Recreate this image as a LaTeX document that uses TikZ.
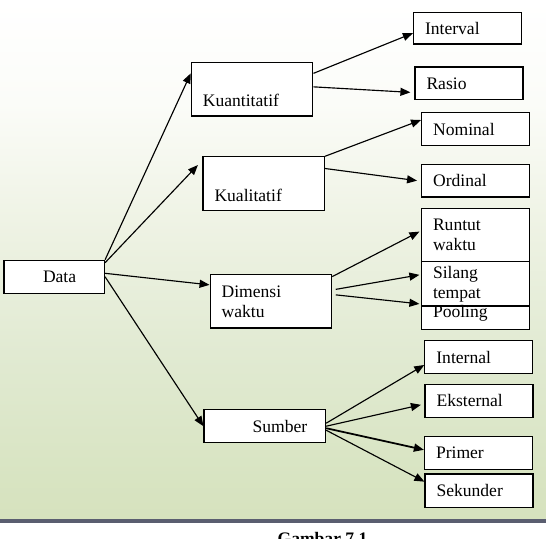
\documentclass[tikz,border=0pt]{standalone}
\usepackage{fontspec}
\setmainfont{Liberation Serif}
\usetikzlibrary{arrows.meta, positioning, calc}
\definecolor{bggreen}{HTML}{D6E2BE}
\definecolor{bglow}{HTML}{D8E4C2}
\definecolor{bgmid}{HTML}{E1EAD2}
\definecolor{bgpale}{HTML}{EFF3E5}
\definecolor{bgwhite}{HTML}{FBFCF8}
\definecolor{cband}{HTML}{5A5E70}
\pgfdeclareverticalshading{pageshade}{100bp}{color(0bp)=(bggreen); color(25bp)=(bggreen); color(29bp)=(bglow); color(41bp)=(bgmid); color(54bp)=(bgpale); color(65bp)=(bgwhite); color(75bp)=(white); color(100bp)=(white)}
\tikzset{
  every picture/.style={font=\fontsize{10}{11.4}\selectfont, line width=0.5pt},
  box/.style={draw=black, fill=white, line width=0.7pt, inner xsep=0.23cm, inner ysep=0pt, align=left},
  leafbox/.style={box, text width=1.70cm, minimum height=#1},
  leafbox/.default=0.66cm,
  midbox/.style={box, text width=1.97cm, minimum height=#1},
  midbox/.default=1.066cm,
  arrow/.style={-{Triangle[length=2mm, width=1.6mm]}, draw=black, line width=0.65pt},
}

\begin{document}
\begin{tikzpicture}[x=0.02cm, y=-0.02cm]
  \useasboundingbox (0,0) rectangle (546,538);
  % page background
  \shade[shading=pageshade] (0,0) rectangle (546,518.5);
  \fill[cband] (0,518.5) rectangle (546,522.5);

  % root and first level
  \node[box, text width=1.55cm, minimum height=0.66cm] (data) at (54.25,276.8) {\hspace*{0.55cm}Data};
  \node[midbox, text height=0.8cm, text depth=0.12cm] (kuan) at (252.1,89.35) {Kuantitatif};
  \node[midbox, text height=0.8cm, text depth=0.07cm] (kual) at (263.75,183.5) {Kualitatif};
  \node[midbox] (dim) at (270.9,301.35) {Dimensi\\waktu};
  \node[midbox=0.66cm] (sumber) at (264.8,426.2) {\hspace*{0.74cm}Sumber};

  % second level
  \node[leafbox=0.634cm] (interval) at (467.5,28.15) {Interval};
  \node[leafbox=0.654cm] (rasio) at (469,83.35) {Rasio};
  \node[leafbox=0.652cm] (nominal) at (475.65,129) {Nominal};
  \node[leafbox=0.654cm] (ordinal) at (475.65,180.65) {Ordinal};
  \node[leafbox=1.064cm] (runtut) at (475.5,235.1) {Runtut\\waktu};
  \node[leafbox=0.886cm] (silang) at (475.5,283.85) {Silang\\tempat};
  \node[leafbox=0.474cm, text height=0.17cm, text depth=0.17cm] (pooling) at (475.5,317.85) {Pooling};
  \node[leafbox=0.668cm] (internal) at (478.85,357) {Internal};
  \node[leafbox] (eksternal) at (479,400.8) {Eksternal};
  \node[leafbox] (primer) at (478.5,452.8) {Primer};
  \node[leafbox=0.666cm] (sekunder) at (479,490.65) {Sekunder};

  % connectors from Data
  \draw[arrow] (data.north east) -- ([yshift=0.32cm]kuan.west);
  \draw[arrow] ([yshift=-0.06cm]data.north east) -- ([xshift=-0.09cm, yshift=0.37cm]kual.west);
  \draw[arrow] ([yshift=0.07cm]data.east) -- ([yshift=0.33cm]dim.west);
  \draw[arrow] (data.east) -- (sumber.west);

  % connectors to the leaves
  \draw[arrow] ([yshift=0.32cm]kuan.east) -- ([yshift=-0.1cm]interval.west);
  \draw[arrow] ([yshift=0.05cm]kuan.east) -- ([xshift=-0.08cm, yshift=-0.18cm]rasio.west);
  \draw[arrow] (kual.north east) -- ([yshift=0.18cm]nominal.west);
  \draw[arrow] ([yshift=0.3cm]kual.east) -- ([xshift=-0.08cm]ordinal.west);
  \draw[arrow] ([yshift=-0.05cm]dim.north east) -- ([xshift=-0.03cm, yshift=0.07cm]runtut.west);
  \draw[arrow] ([xshift=0.07cm, yshift=0.24cm]dim.east) -- ([xshift=-0.03cm, yshift=0.18cm]silang.west);
  \draw[arrow] ([xshift=0.07cm, yshift=0.13cm]dim.east) -- ([xshift=-0.03cm, yshift=0.28cm]pooling.west);
  \draw[arrow] ([yshift=0.06cm]sumber.east) -- ([yshift=-0.16cm]internal.west);
  \draw[arrow] (sumber.east) -- ([xshift=-0.07cm, yshift=-0.08cm]eksternal.west);
  \draw[arrow, line width=1pt] ([yshift=-0.04cm]sumber.east) -- ([yshift=0.06cm]primer.west);
  \draw[arrow] ([yshift=-0.08cm]sumber.east) -- ([yshift=0.18cm]sekunder.west);

  \node[anchor=base, font=\fontsize{10}{12}\selectfont\bfseries] (caption) at (322.5,544.4) {Gambar 7.1};
\end{tikzpicture}
\end{document}
